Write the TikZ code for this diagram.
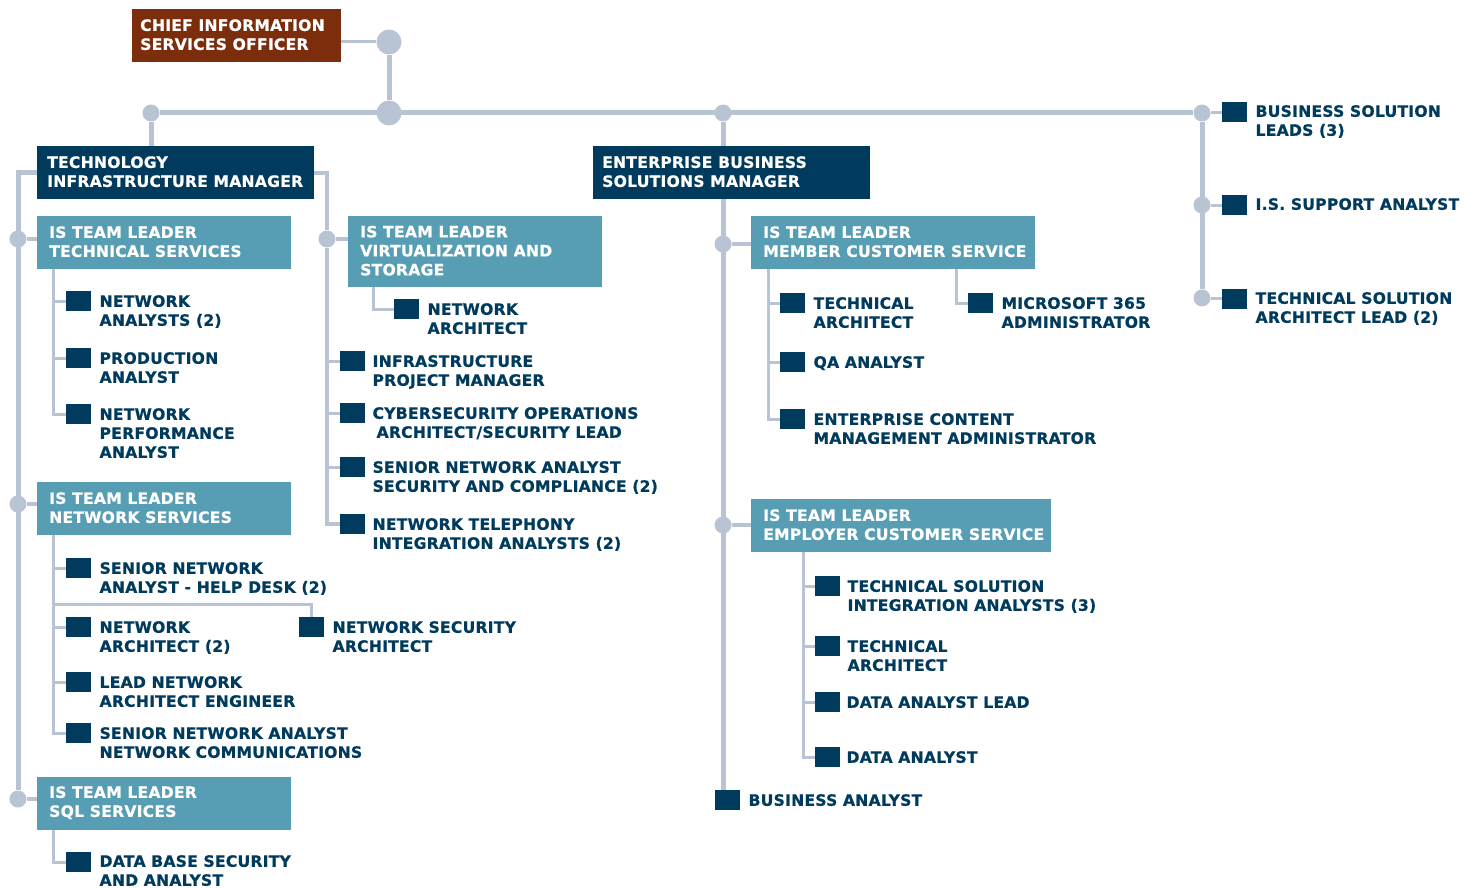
\documentclass[tikz,border=0pt]{standalone}
\usepackage{fontspec}
\setmainfont{DejaVu Sans}[BoldFeatures={FakeBold=0.7,LetterSpace=1.5}]
\usetikzlibrary{backgrounds}
\definecolor{navy}{RGB}{0,58,93}
\definecolor{leadteal}{RGB}{87,158,181}
\definecolor{rust}{RGB}{124,45,12}
\definecolor{lnk}{RGB}{184,196,212}
\tikzset{
  orgfont/.style={font=\fontsize{15.6}{19}\selectfont\bfseries},
  panel/.style={anchor=north west, inner sep=0pt, draw=none},
  panelnavy/.style={panel, fill=navy},
  panelteal/.style={panel, fill=leadteal},
  paneltext/.style={orgfont, anchor=west, inner sep=0pt, align=left, text=white},
  sqr/.style={anchor=north west, fill=navy, minimum width=25pt, minimum height=20pt, inner sep=0pt},
  role/.style={orgfont, anchor=north west, inner sep=0pt, align=left, text=navy},
  hub/.style={circle, fill=lnk, inner sep=0pt, minimum size=17pt},
  bighub/.style={circle, fill=lnk, inner sep=0pt, minimum size=25pt},
  trunk/.style={draw=lnk, line width=5pt},
  midlink/.style={draw=lnk, line width=4pt},
  sublink/.style={draw=lnk, line width=3pt},
}
\begin{document}
\begin{tikzpicture}[x=1pt,y=-1pt]
\useasboundingbox (0,0) rectangle (1473,888);

% ---------- top level
\node[panel, fill=rust, minimum width=209pt, minimum height=53pt] (cio) at (132,9) {};
\node[paneltext] (tcio) at ([xshift=8pt,yshift=1pt]cio.west) {CHIEF INFORMATION\\SERVICES OFFICER};
\node[bighub] (h0) at (389,42) {};
\node[bighub] (h1) at (389,113) {};
\node[hub] (hT) at (151,113) {};
\node[hub] (hE) at (723,113) {};
\node[hub] (hR1) at (1202,113) {};
\node[hub] (hR2) at (1202,205) {};
\node[hub] (hR3) at (1202,298) {};

% ---------- managers
\node[panelnavy, minimum width=277pt, minimum height=53pt] (tim) at (37,146) {};
\node[paneltext] (ttim) at ([xshift=10pt,yshift=1pt]tim.west) {TECHNOLOGY\\INFRASTRUCTURE MANAGER};
\node[panelnavy, minimum width=277pt, minimum height=53pt] (ebs) at (593,146) {};
\node[paneltext] (tebs) at ([xshift=9pt,yshift=1pt]ebs.west) {ENTERPRISE BUSINESS\\SOLUTIONS MANAGER};

% ---------- infrastructure side
\node[hub] (hL1) at (18,239) {};
\node[hub] (hL2) at (18,504) {};
\node[hub] (hL3) at (18,799) {};
\node[hub] (hV) at (327,239) {};

\node[panelteal, minimum width=254pt, minimum height=53pt] (tl1) at (37,216) {};
\node[paneltext] at ([xshift=12pt,yshift=1pt]tl1.west) {IS TEAM LEADER\\TECHNICAL SERVICES};
\node[panelteal, minimum width=254pt, minimum height=53pt] (tl2) at (37,482) {};
\node[paneltext] at ([xshift=12pt,yshift=1pt]tl2.west) {IS TEAM LEADER\\NETWORK SERVICES};
\node[panelteal, minimum width=254pt, minimum height=53pt] (tl3) at (37,777) {};
\node[paneltext] at ([xshift=12pt,yshift=1pt]tl3.west) {IS TEAM LEADER\\SQL SERVICES};
\node[panelteal, minimum width=254pt, minimum height=71pt] (tl4) at (348,216) {};
\node[paneltext] at ([xshift=12pt,yshift=1pt]tl4.west) {IS TEAM LEADER\\VIRTUALIZATION AND\\STORAGE};

\node[sqr] (sqA1) at (66,291) {};
\node[role] at ([xshift=8pt,yshift=-4pt]sqA1.north east) {NETWORK\\ANALYSTS (2)};
\node[sqr] (sqA2) at (66,348) {};
\node[role] at ([xshift=8pt,yshift=-4pt]sqA2.north east) {PRODUCTION\\ANALYST};
\node[sqr] (sqA3) at (66,404) {};
\node[role] at ([xshift=8pt,yshift=-4pt]sqA3.north east) {NETWORK\\PERFORMANCE\\ANALYST};

\node[sqr] (sqB1) at (66,558) {};
\node[role] at ([xshift=8pt,yshift=-4pt]sqB1.north east) {SENIOR NETWORK\\ANALYST - HELP DESK (2)};
\node[sqr] (sqB2) at (66,617) {};
\node[role] at ([xshift=8pt,yshift=-4pt]sqB2.north east) {NETWORK\\ARCHITECT (2)};
\node[sqr] (sqB3) at (66,672) {};
\node[role] at ([xshift=8pt,yshift=-4pt]sqB3.north east) {LEAD NETWORK\\ARCHITECT ENGINEER};
\node[sqr] (sqB4) at (66,723) {};
\node[role] at ([xshift=8pt,yshift=-4pt]sqB4.north east) {SENIOR NETWORK ANALYST\\NETWORK COMMUNICATIONS};
\node[sqr] (sqB5) at (299,617) {};
\node[role] at ([xshift=8pt,yshift=-4pt]sqB5.north east) {NETWORK SECURITY\\ARCHITECT};
\coordinate (kB) at (53,604);

\node[sqr] (sqC1) at (66,852) {};
\node[role] at ([xshift=8pt,yshift=-3pt]sqC1.north east) {DATA BASE SECURITY\\AND ANALYST};

\node[sqr] (sqD1) at (394,299) {};
\node[role] at ([xshift=8pt,yshift=-4pt]sqD1.north east) {NETWORK\\ARCHITECT};

\node[sqr] (sqE1) at (340,351) {};
\node[role] at ([xshift=7pt,yshift=-4pt]sqE1.north east) {INFRASTRUCTURE\\PROJECT MANAGER};
\node[sqr] (sqE2) at (340,403) {};
\node[role] at ([xshift=7pt,yshift=-4pt]sqE2.north east) {CYBERSECURITY OPERATIONS\\\hspace*{4pt}ARCHITECT/SECURITY LEAD};
\node[sqr] (sqE3) at (340,457) {};
\node[role] at ([xshift=7pt,yshift=-4pt]sqE3.north east) {SENIOR NETWORK ANALYST\\SECURITY AND COMPLIANCE (2)};
\node[sqr] (sqE4) at (340,514) {};
\node[role] at ([xshift=7pt,yshift=-4pt]sqE4.north east) {NETWORK TELEPHONY\\INTEGRATION ANALYSTS (2)};

% ---------- business solutions side
\node[hub] (hM1) at (723,244) {};
\node[hub] (hM2) at (723,525) {};

\node[panelteal, minimum width=284pt, minimum height=53pt] (tl5) at (751,216) {};
\node[paneltext] at ([xshift=12pt,yshift=1pt]tl5.west) {IS TEAM LEADER\\MEMBER CUSTOMER SERVICE};
\node[panelteal, minimum width=300pt, minimum height=53pt] (tl6) at (751,499) {};
\node[paneltext] at ([xshift=12pt,yshift=1pt]tl6.west) {IS TEAM LEADER\\EMPLOYER CUSTOMER SERVICE};

\node[sqr] (sqF1) at (780,293) {};
\node[role] at ([xshift=8pt,yshift=-4pt]sqF1.north east) {TECHNICAL\\ARCHITECT};
\node[sqr] (sqF2) at (780,352) {};
\node[role] at ([xshift=8pt,yshift=-4pt]sqF2.north east) {QA ANALYST};
\node[sqr] (sqF3) at (780,409) {};
\node[role] at ([xshift=8pt,yshift=-4pt]sqF3.north east) {ENTERPRISE CONTENT\\MANAGEMENT ADMINISTRATOR};
\node[sqr] (sqF4) at (968,293) {};
\node[role] at ([xshift=8pt,yshift=-4pt]sqF4.north east) {MICROSOFT 365\\ADMINISTRATOR};

\node[sqr] (sqG1) at (815,576) {};
\node[role] at ([xshift=7pt,yshift=-4pt]sqG1.north east) {TECHNICAL SOLUTION\\INTEGRATION ANALYSTS (3)};
\node[sqr] (sqG2) at (815,636) {};
\node[role] at ([xshift=7pt,yshift=-4pt]sqG2.north east) {TECHNICAL\\ARCHITECT};
\node[sqr] (sqG3) at (815,692) {};
\node[role] at ([xshift=6pt,yshift=-4pt]sqG3.north east) {DATA ANALYST LEAD};
\node[sqr] (sqG4) at (815,747) {};
\node[role] at ([xshift=6pt,yshift=-4pt]sqG4.north east) {DATA ANALYST};

\node[sqr] (sqBA) at (715,790) {};
\node[role] at ([xshift=8pt,yshift=-4pt]sqBA.north east) {BUSINESS ANALYST};

% ---------- right column
\node[sqr] (sqR1) at (1222,102) {};
\node[role] at ([xshift=8pt,yshift=-3pt]sqR1.north east) {BUSINESS SOLUTION\\LEADS (3)};
\node[sqr] (sqR2) at (1222,195) {};
\node[role] at ([xshift=8pt,yshift=-3pt]sqR2.north east) {I.S. SUPPORT ANALYST};
\node[sqr] (sqR3) at (1222,289) {};
\node[role] at ([xshift=8pt,yshift=-3pt]sqR3.north east) {TECHNICAL SOLUTION\\ARCHITECT LEAD (2)};

% ---------- connectors
\begin{scope}[on background layer]
  \draw[sublink] (h0 -| cio.east) -- (h0);
  \draw[trunk] (h0) -- (h1);
  \draw[trunk] (hT) -- (hR1);
  \draw[trunk] (hT) -- (hT |- tim.north);
  \draw[trunk] (hE) -- (hE |- sqBA.north);
  \draw[trunk] (hR1) -- (hR3);
  \foreach \h/\s in {hR1/sqR1, hR2/sqR2, hR3/sqR3}
    \draw[sublink] (\h) -- (\h -| \s.west);

  % infrastructure trunks
  \draw[trunk] (tim.west) -| (hL3);
  \foreach \h/\t in {hL1/tl1, hL2/tl2, hL3/tl3}
    \draw[midlink] (\h) -- (\h -| \t.west);
  \draw[midlink] (tim.east) -| (hV);
  \draw[midlink] (hV) |- (sqE4.west);
  \draw[midlink] (hV) -- (hV -| tl4.west);
  \foreach \s in {sqE1, sqE2, sqE3}
    \draw[sublink] (\s.west) -| (hV);

  % team leader groups
  \foreach \s in {sqA1, sqA2, sqA3}
    \draw[sublink] ([xshift=16pt]tl1.south west) |- (\s.west);
  \foreach \s in {sqB1, sqB2, sqB3, sqB4}
    \draw[sublink] ([xshift=16pt]tl2.south west) |- (\s.west);
  \draw[sublink] (kB) -| (sqB5.north);
  \draw[sublink] ([xshift=16pt]tl3.south west) |- (sqC1.west);
  \draw[sublink] ([xshift=25pt]tl4.south west) |- (sqD1.west);

  % business solutions groups
  \foreach \h/\t in {hM1/tl5, hM2/tl6}
    \draw[midlink] (\h) -- (\h -| \t.west);
  \foreach \s in {sqF1, sqF2, sqF3}
    \draw[sublink] ([xshift=17pt]tl5.south west) |- (\s.west);
  \draw[sublink] ([xshift=205pt]tl5.south west) |- (sqF4.west);
  \foreach \s in {sqG1, sqG2, sqG3, sqG4}
    \draw[sublink] ([xshift=52pt]tl6.south west) |- (\s.west);
\end{scope}
\end{tikzpicture}
\end{document}
